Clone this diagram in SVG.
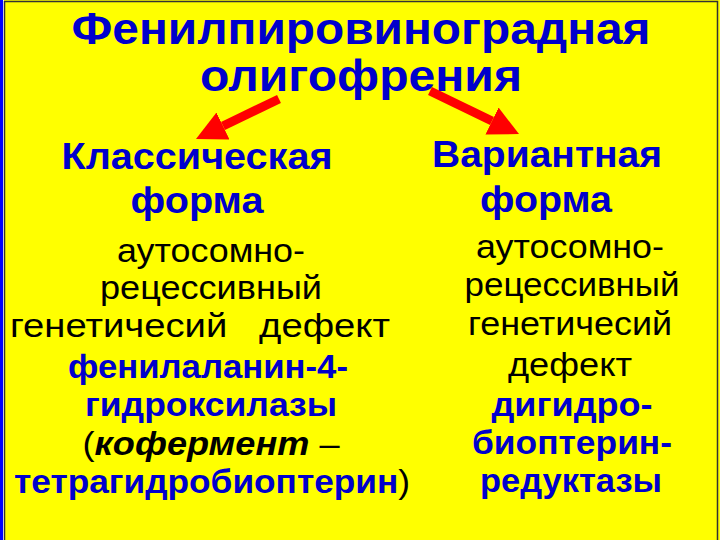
<svg xmlns="http://www.w3.org/2000/svg" width="720" height="540" viewBox="0 0 720 540">
<style>
text{font-family:"Liberation Sans",Arial,sans-serif;text-anchor:middle}
.t{font-size:44px;font-weight:bold;fill:#0000CC}
.h{font-size:36px;font-weight:bold;fill:#0000CC}
.b{font-size:34px;fill:#000}
.bb{font-size:34px;font-weight:bold;fill:#0000CC}
.k{font-weight:bold;font-style:italic;fill:#000}
.p{font-weight:normal;fill:#000}
.arrow{stroke:#FF0000;stroke-width:9;fill:none}
</style>
<defs>
<marker id="ah" markerUnits="userSpaceOnUse" markerWidth="32" markerHeight="32" refX="0" refY="15" orient="auto">
<path d="M0,0 L30,15 L0,30 z" fill="#FF0000"/>
</marker>
</defs>
<rect width="720" height="540" fill="#FFFF00"/>
<rect x="0" y="0" width="3" height="540" fill="#0000FF"/>
<rect x="3" y="0" width="1" height="540" fill="#FFFFFF"/>
<path d="M4.5,540 V1.5 H717.5 V540" fill="none" stroke="#333" stroke-width="1.5"/>

<g id="title">
<text class="t" x="361" y="44" textLength="579" lengthAdjust="spacingAndGlyphs">Фенилпировиноградная</text>
<text class="t" x="361" y="91" textLength="322" lengthAdjust="spacingAndGlyphs">олигофрения</text>
</g>

<g id="connectors">
<line class="arrow" x1="279" y1="99" x2="223" y2="126" marker-end="url(#ah)"/>
<line class="arrow" x1="430" y1="91" x2="492" y2="121" marker-end="url(#ah)"/>
</g>

<g id="classic">
<text class="h" x="197" y="169" textLength="271" lengthAdjust="spacingAndGlyphs">Классическая</text>
<text class="h" x="197" y="213" textLength="133" lengthAdjust="spacingAndGlyphs">форма</text>
<text class="b" x="211" y="262" textLength="188" lengthAdjust="spacingAndGlyphs">аутосомно-</text>
<text class="b" x="211" y="299" textLength="222" lengthAdjust="spacingAndGlyphs">рецессивный</text>
<text class="b" x="200" y="337" textLength="380" lengthAdjust="spacingAndGlyphs" xml:space="preserve">генетичесий   дефект</text>
<text class="bb" x="208" y="378" textLength="280" lengthAdjust="spacingAndGlyphs">фенилаланин-4-</text>
<text class="bb" x="211" y="416" textLength="252" lengthAdjust="spacingAndGlyphs">гидроксилазы</text>
<text class="bb" x="211" y="455" textLength="257" lengthAdjust="spacingAndGlyphs"><tspan class="p">(</tspan><tspan class="k">кофермент</tspan><tspan class="p"> –</tspan></text>
<text class="bb" x="212" y="493" textLength="396" lengthAdjust="spacingAndGlyphs">тетрагидробиоптерин<tspan class="p">)</tspan></text>
</g>

<g id="variant">
<text class="h" x="547" y="167" textLength="230" lengthAdjust="spacingAndGlyphs">Вариантная</text>
<text class="h" x="546" y="212" textLength="132" lengthAdjust="spacingAndGlyphs">форма</text>
<text class="b" x="570" y="258" textLength="188" lengthAdjust="spacingAndGlyphs">аутосомно-</text>
<text class="b" x="572" y="296" textLength="215" lengthAdjust="spacingAndGlyphs">рецессивный</text>
<text class="b" x="570" y="335" textLength="204" lengthAdjust="spacingAndGlyphs">генетичесий</text>
<text class="b" x="570" y="376" textLength="124" lengthAdjust="spacingAndGlyphs">дефект</text>
<text class="bb" x="572" y="416" textLength="161" lengthAdjust="spacingAndGlyphs">дигидро-</text>
<text class="bb" x="572" y="454" textLength="200" lengthAdjust="spacingAndGlyphs">биоптерин-</text>
<text class="bb" x="571" y="492" textLength="182" lengthAdjust="spacingAndGlyphs">редуктазы</text>
</g>
</svg>
